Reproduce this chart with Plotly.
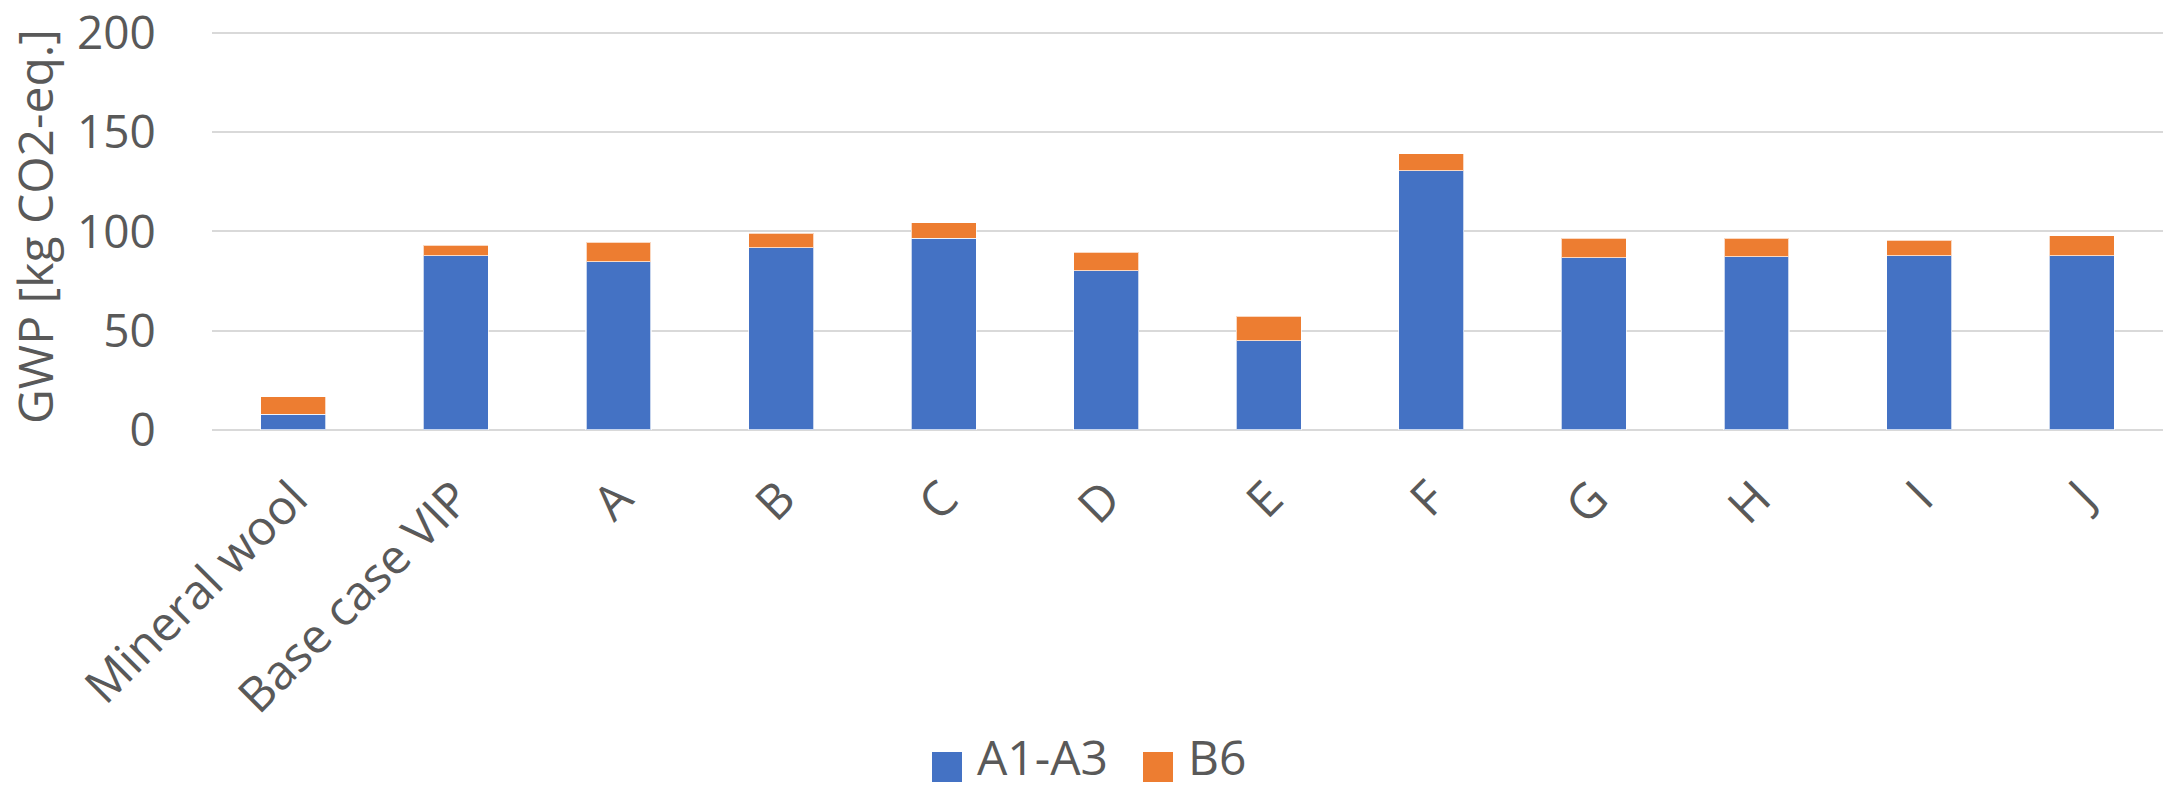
import plotly.graph_objects as go

categories = ["Mineral wool", "Base case VIP", "A", "B", "C", "D", "E", "F", "G", "H", "I", "J"]
a1_a3 = [8.0, 87.7, 84.7, 91.8, 96.5, 80.3, 44.9, 130.6, 86.7, 87.2, 87.7, 87.7]
totals = [16.8, 93.1, 94.5, 99.2, 104.5, 89.6, 57.3, 139.2, 96.6, 96.6, 95.6, 97.8]
b6 = [round(t - a, 1) for t, a in zip(totals, a1_a3)]

series_names = ["A1-A3", "B6"]
colors = ["#4472C4", "#ED7D31"]
y_ticks = [0, 50, 100, 150, 200]
y_tick_text = ["0", "50", "100", "150", "200"]

FONT = "Open Sans"
TXT = "#595959"
FS = 48
FS_Y = 46

L, R, T, B = 212, 2, 23, 362
W, H = 2165, 792
PW = W - L - R
PH = H - T - B

fig = go.Figure()
for name, vals, col in zip(series_names, [a1_a3, b6], colors):
    fig.add_trace(go.Bar(
        x=categories, y=vals, name=name, marker_color=col,
        marker_line=dict(width=1.2, color="rgba(255,255,255,0.7)"),
        showlegend=False,
    ))

# Legend drawn as squares + text (large swatches like the reference)
def px_x(p):
    return (p - L) / PW

def px_y(p):
    return (H - B - p) / PH

legend_items = [(series_names[0], colors[0], 932), (series_names[1], colors[1], 1143)]
for name, col, x0 in legend_items:
    fig.add_shape(type="rect", xref="paper", yref="paper",
                  x0=px_x(x0), x1=px_x(x0 + 30), y0=px_y(782), y1=px_y(752),
                  fillcolor=col, line=dict(width=0))
    fig.add_annotation(text=name, xref="paper", yref="paper",
                       x=px_x(x0 + 43), y=px_y(791), xanchor="left", yanchor="bottom",
                       showarrow=False, font=dict(size=FS, color=TXT, family=FONT))

fig.update_layout(
    barmode="stack",
    bargap=0.6,
    width=W, height=H,
    margin=dict(l=L, r=R, t=T, b=B),
    paper_bgcolor="white", plot_bgcolor="white",
    font=dict(family=FONT, color=TXT, size=FS),
    showlegend=False,
    xaxis=dict(tickangle=-45, showgrid=False, showline=False,
               ticks="outside", ticklen=20, tickcolor="rgba(0,0,0,0)",
               tickfont=dict(size=FS, color=TXT), automargin=False),
    yaxis=dict(range=[0, 205], tickmode="array", tickvals=y_ticks, ticktext=y_tick_text,
               showgrid=True, ticklabeloverflow="allow",
               gridcolor="#d9d9d9", gridwidth=2, zeroline=True,
               zerolinecolor="#d9d9d9", zerolinewidth=2, showline=False,
               ticks="outside", ticklen=46, tickcolor="rgba(0,0,0,0)",
               tickfont=dict(size=FS_Y, color=TXT), automargin=False,
               title=dict(text="GWP [kg CO2-eq.]", font=dict(size=FS, color=TXT),
                          standoff=8)),
)

fig.write_html("out.html")
